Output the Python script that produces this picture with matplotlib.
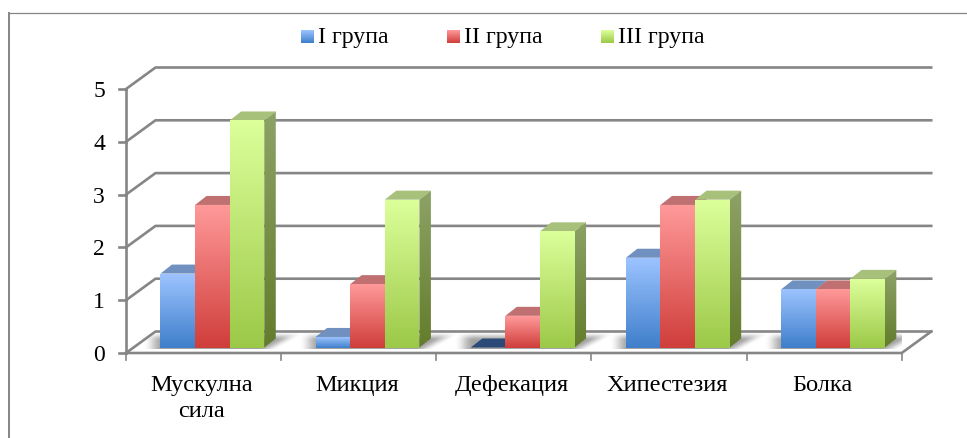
import numpy as np
import matplotlib
matplotlib.use("Agg")
import matplotlib.pyplot as plt
from matplotlib.patches import Polygon
from matplotlib.colors import LinearSegmentedColormap

categories = ["Мускулна\nсила", "Микция", "Дефекация", "Хипестезия", "Болка"]
series_names = ["I група", "II група", "III група"]
group1 = [1.4, 0.2, 0.0, 1.7, 1.1]
group2 = [2.7, 1.2, 0.6, 2.7, 1.1]
group3 = [4.3, 2.8, 2.2, 2.8, 1.3]
y_ticks = [0, 1, 2, 3, 4, 5]

W, H = 967, 438
GRID = "#868686"
front = [("#9CC3FF", "#3F7FCB"), ("#FF9999", "#CF3E3B"), ("#DCFF9A", "#9CC948")]
side = [("#7D99C8", "#2F5F9A"), ("#C57A7A", "#9A2E2B"), ("#8DA266", "#637C2C")]
top = ["#7090C0", "#C07070", "#A7C07A"]
zero_top = "#2C4A78"

plt.rcParams["font.family"] = ["Liberation Serif", "DejaVu Serif"]
fig = plt.figure(figsize=(W / 100, H / 100), dpi=100, facecolor="white")

# plot box: front plane of the 3D chart, in pixels
PX_L, PX_R, PX_0, PX_5 = 126.0, 901.7, 353.0, 89.0
ax = fig.add_axes([PX_L / W, 1 - PX_0 / H, (PX_R - PX_L) / W, (PX_0 - PX_5) / H])
ax.set_axis_off()
ux = (PX_R - PX_L) / 5      # px per category
uy = (PX_0 - PX_5) / 5      # px per value
wall_dx, wall_dy = 29.5 / ux, 21.5 / uy
depth_dx, depth_dy = 11.5 / ux, 9.0 / uy
bar_off_x, bar_off_y = 8.8 / ux, 5.5 / uy
bar_w = 34.6 / ux
gap = (1 - 3 * bar_w) / 2


def lines(xs, ys, lw=1.9, z=2):
    ax.plot(xs, ys, color=GRID, lw=lw, solid_capstyle="projecting", clip_on=False, zorder=z)


def grad(poly_xy, c_top, c_bot, z):
    """vertical gradient filling a polygon"""
    poly_xy = np.array(poly_xy)
    cmap = LinearSegmentedColormap.from_list("g", [c_top, c_bot])
    ext = (poly_xy[:, 0].min(), poly_xy[:, 0].max(), poly_xy[:, 1].min(), poly_xy[:, 1].max())
    im = ax.imshow(np.linspace(0, 1, 128)[:, None], cmap=cmap, extent=ext, aspect="auto",
                   origin="upper", zorder=z, interpolation="bilinear")
    im.set_clip_path(Polygon(poly_xy, closed=True, transform=ax.transData))


def smooth(t):
    t = np.clip(t, 0, 1)
    return t * t * (3 - 2 * t)


# floor
floor_xy = [(0, 0), (5, 0), (5 + wall_dx, wall_dy), (wall_dx, wall_dy)]
floor = Polygon(floor_xy, closed=True, fc="white", ec="none", zorder=1, clip_on=False)
ax.add_patch(floor)

# soft floor shadow behind each cluster
for i in range(len(categories)):
    x0 = i + gap + bar_off_x
    x1 = x0 + 3 * bar_w
    ex_l, ex_r = x0 - 20 / ux, x1 + 60 / ux
    ex_b, ex_t = bar_off_y - 1 / uy, wall_dy
    nx, ny = 200, 30
    gx, gy = np.meshgrid(np.linspace(ex_l, ex_r, nx), np.linspace(ex_t, ex_b, ny))
    h = (gy - bar_off_y) * uy                # px above bar base
    xp = (gx - x0) * ux                      # px from the cluster's left end
    span = (x1 - x0) * ux
    a = (smooth((xp + 17) / 20)
         * smooth((span + 16 + h * 1.8 - xp) / 20)
         * smooth((16.5 - h) / 9))
    rgba = np.zeros((ny, nx, 4))
    rgba[..., :3] = 0.3
    rgba[..., 3] = 0.52 * a
    im = ax.imshow(rgba, extent=(ex_l, ex_r, ex_b, ex_t), aspect="auto", origin="upper",
                   zorder=1.5, interpolation="bilinear")
    im.set_clip_path(Polygon(floor_xy, closed=True, transform=ax.transData))

# gridlines on side and back walls
for v in y_ticks:
    lines([0, wall_dx, 5 + wall_dx], [v, v + wall_dy, v + wall_dy])
    lines([-7.5 / ux, 0], [v, v])
# axis lines
lines([0, 0], [0, 5])
lines([0, 5, 5 + wall_dx], [0, 0, wall_dy])
for i in range(len(categories) + 1):
    lines([i, i], [0, -7 / uy], lw=1.2)

# bars
all_series = [group1, group2, group3]
for i in range(len(categories)):
    for s, vals in enumerate(all_series):
        v = vals[i]
        z = 3 + i + s * 0.1
        x0 = i + gap + bar_off_x + s * bar_w
        x1 = x0 + bar_w
        y0, y1 = bar_off_y, bar_off_y + v
        top_col = zero_top if v == 0 else top[s]
        ax.add_patch(Polygon([(x0, y1), (x1, y1), (x1 + depth_dx, y1 + depth_dy), (x0 + depth_dx, y1 + depth_dy)],
                             closed=True, fc=top_col, ec="none", zorder=z, clip_on=False))
        if v > 0:
            grad([(x1, y0), (x1 + depth_dx, y0 + depth_dy), (x1 + depth_dx, y1 + depth_dy), (x1, y1)],
                 side[s][0], side[s][1], z)
            grad([(x0, y0), (x1, y0), (x1, y1), (x0, y1)], front[s][0], front[s][1], z + 0.01)

ax.set_xlim(0, 5)
ax.set_ylim(0, 5)

# tick labels
for v in y_ticks:
    ax.text(-27 / ux, v, str(v), ha="center", va="center_baseline", fontsize=17, color="black", clip_on=False)
for i, c in enumerate(categories):
    ax.text(i + 0.5 - 2 / ux, -22 / uy, c, ha="center", va="top", fontsize=17.6, linespacing=1.3,
            color="black", clip_on=False)

# chart frame (top and left)
fig.add_artist(plt.Line2D([8.5 / W, 8.5 / W], [0, 1 - 12.5 / H], color=GRID, lw=1.4))
fig.add_artist(plt.Line2D([8.5 / W, 1], [1 - 12.5 / H, 1 - 12.5 / H], color=GRID, lw=0.9))

# legend
swatch_x = [301, 447, 601]
for s, name in enumerate(series_names):
    sax = fig.add_axes([swatch_x[s] / W, 1 - 43 / H, 13 / W, 13 / H])
    sax.set_axis_off()
    cmap = LinearSegmentedColormap.from_list("g", list(front[s]))
    sax.imshow(np.linspace(0, 1, 32)[:, None], cmap=cmap, aspect="auto", interpolation="bilinear")
    fig.text((swatch_x[s] + 17) / W, 1 - 38 / H, name, ha="left", va="center", fontsize=17.2, color="black")

fig.savefig("out.png", dpi=100, facecolor="white")
